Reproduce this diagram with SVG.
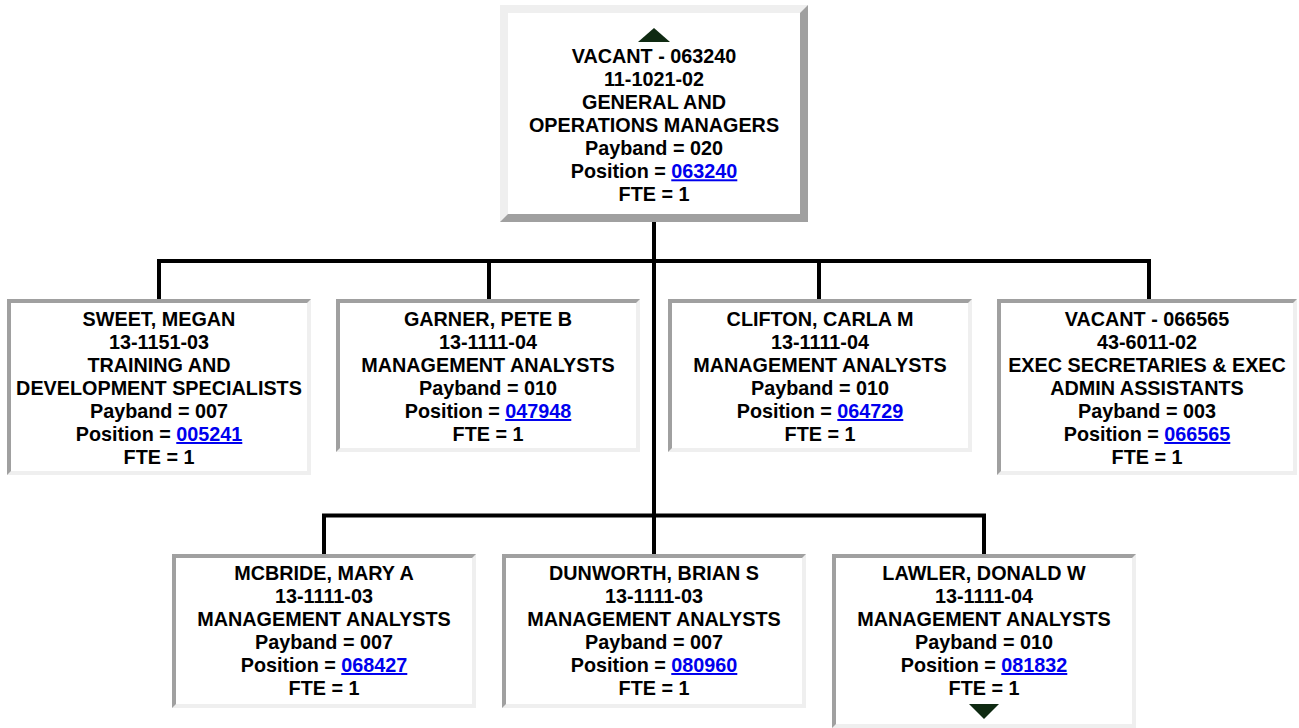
<svg xmlns="http://www.w3.org/2000/svg" width="1299" height="728" viewBox="0 0 1299 728">
<style>
.t{font-family:"Liberation Sans",Arial,sans-serif;font-weight:bold;font-size:19.8px;fill:#000;text-anchor:middle}
.l{fill:#0000ee;text-decoration:underline}
.light{fill:#efefef}
.dark{fill:#a0a0a0}
.in{fill:#fff}
.c{fill:none;stroke:#000;stroke-width:4;stroke-linejoin:miter}
.tri{fill:#0f2a12}
</style>
<rect width="1299" height="728" fill="#fff"/>
<g id="connectors">
<path class="c" d="M654 222 V554"/>
<path class="c" d="M159 299 V261 H1149 V299"/>
<path class="c" d="M489 261 V299"/>
<path class="c" d="M819 261 V299"/>
<path class="c" d="M324 554 V515.5 H984 V554"/>
</g>
<g id="n063240">
<rect class="dark" x="500" y="5" width="308" height="217"/>
<polygon class="light" points="500,5 808,5 800,13 508,13 508,214 500,222"/>
<rect class="in" x="508" y="13" width="292" height="201"/>
<polygon class="tri" points="654,28 670,42 638,42"/>
<text class="t" x="654" y="63.3">VACANT - 063240</text>
<text class="t" x="654" y="86.3">11-1021-02</text>
<text class="t" x="654" y="109.3">GENERAL AND</text>
<text class="t" x="654" y="132.3">OPERATIONS MANAGERS</text>
<text class="t" x="654" y="155.3">Payband = 020</text>
<text class="t" x="654" y="178.3">Position = <tspan class="l">063240</tspan></text>
<text class="t" x="654" y="201.3">FTE = 1</text>
</g>
<g id="n005241">
<rect class="light" x="7" y="299" width="304" height="176"/>
<polygon class="dark" points="7,299 311,299 307,303 11,303 11,471 7,475"/>
<rect class="in" x="11" y="303" width="296" height="168"/>
<text class="t" x="159" y="326">SWEET, MEGAN</text>
<text class="t" x="159" y="349">13-1151-03</text>
<text class="t" x="159" y="372">TRAINING AND</text>
<text class="t" x="159" y="395">DEVELOPMENT SPECIALISTS</text>
<text class="t" x="159" y="418">Payband = 007</text>
<text class="t" x="159" y="441">Position = <tspan class="l">005241</tspan></text>
<text class="t" x="159" y="464">FTE = 1</text>
</g>
<g id="n047948">
<rect class="light" x="336" y="299" width="304" height="153"/>
<polygon class="dark" points="336,299 640,299 636,303 340,303 340,448 336,452"/>
<rect class="in" x="340" y="303" width="296" height="145"/>
<text class="t" x="488" y="326">GARNER, PETE B</text>
<text class="t" x="488" y="349">13-1111-04</text>
<text class="t" x="488" y="372">MANAGEMENT ANALYSTS</text>
<text class="t" x="488" y="395">Payband = 010</text>
<text class="t" x="488" y="418">Position = <tspan class="l">047948</tspan></text>
<text class="t" x="488" y="441">FTE = 1</text>
</g>
<g id="n064729">
<rect class="light" x="668" y="299" width="304" height="153"/>
<polygon class="dark" points="668,299 972,299 968,303 672,303 672,448 668,452"/>
<rect class="in" x="672" y="303" width="296" height="145"/>
<text class="t" x="820" y="326">CLIFTON, CARLA M</text>
<text class="t" x="820" y="349">13-1111-04</text>
<text class="t" x="820" y="372">MANAGEMENT ANALYSTS</text>
<text class="t" x="820" y="395">Payband = 010</text>
<text class="t" x="820" y="418">Position = <tspan class="l">064729</tspan></text>
<text class="t" x="820" y="441">FTE = 1</text>
</g>
<g id="n066565">
<rect class="light" x="997" y="299" width="300" height="176"/>
<polygon class="dark" points="997,299 1297,299 1293,303 1001,303 1001,471 997,475"/>
<rect class="in" x="1001" y="303" width="292" height="168"/>
<text class="t" x="1147" y="326">VACANT - 066565</text>
<text class="t" x="1147" y="349">43-6011-02</text>
<text class="t" x="1147" y="372">EXEC SECRETARIES &amp; EXEC</text>
<text class="t" x="1147" y="395">ADMIN ASSISTANTS</text>
<text class="t" x="1147" y="418">Payband = 003</text>
<text class="t" x="1147" y="441">Position = <tspan class="l">066565</tspan></text>
<text class="t" x="1147" y="464">FTE = 1</text>
</g>
<g id="n068427">
<rect class="light" x="172" y="554" width="304" height="154"/>
<polygon class="dark" points="172,554 476,554 472,558 176,558 176,704 172,708"/>
<rect class="in" x="176" y="558" width="296" height="146"/>
<text class="t" x="324" y="580">MCBRIDE, MARY A</text>
<text class="t" x="324" y="603">13-1111-03</text>
<text class="t" x="324" y="626">MANAGEMENT ANALYSTS</text>
<text class="t" x="324" y="649">Payband = 007</text>
<text class="t" x="324" y="672">Position = <tspan class="l">068427</tspan></text>
<text class="t" x="324" y="695">FTE = 1</text>
</g>
<g id="n080960">
<rect class="light" x="502" y="554" width="304" height="154"/>
<polygon class="dark" points="502,554 806,554 802,558 506,558 506,704 502,708"/>
<rect class="in" x="506" y="558" width="296" height="146"/>
<text class="t" x="654" y="580">DUNWORTH, BRIAN S</text>
<text class="t" x="654" y="603">13-1111-03</text>
<text class="t" x="654" y="626">MANAGEMENT ANALYSTS</text>
<text class="t" x="654" y="649">Payband = 007</text>
<text class="t" x="654" y="672">Position = <tspan class="l">080960</tspan></text>
<text class="t" x="654" y="695">FTE = 1</text>
</g>
<g id="n081832">
<rect class="light" x="832" y="554" width="304" height="174"/>
<polygon class="dark" points="832,554 1136,554 1132,558 836,558 836,724 832,728"/>
<rect class="in" x="836" y="558" width="296" height="166"/>
<text class="t" x="984" y="580">LAWLER, DONALD W</text>
<text class="t" x="984" y="603">13-1111-04</text>
<text class="t" x="984" y="626">MANAGEMENT ANALYSTS</text>
<text class="t" x="984" y="649">Payband = 010</text>
<text class="t" x="984" y="672">Position = <tspan class="l">081832</tspan></text>
<text class="t" x="984" y="695">FTE = 1</text>
<polygon class="tri" points="969,704 999,704 984,719"/>
</g>
</svg>
